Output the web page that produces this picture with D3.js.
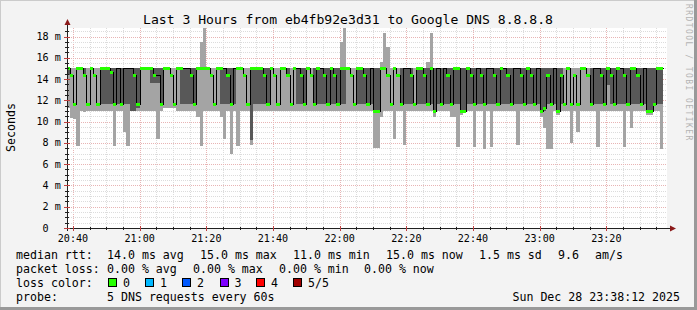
<!DOCTYPE html>
<html><head><meta charset="utf-8">
<script src="https://cdn.jsdelivr.net/npm/d3@7"></script>
<style>
body{margin:0;background:#f3f3f3;}
svg{display:block;}
text{font-family:"DejaVu Sans Mono",monospace;}
</style></head><body>
<svg id="c" width="697" height="310"></svg>
<script>
const titleText = "Last 3 Hours from eb4fb92e3d31 to Google DNS 8.8.8.8";
const yUnitLabel = "Seconds";
const watermark = "RRDTOOL / TOBI OETIKER";
const yTickValues = [0,2,4,6,8,10,12,14,16,18];
const xTickLabels = ["20:40","21:00","21:20","21:40","22:00","22:20","22:40","23:00","23:20"];
// one entry per 60 s step (ms), first step ends 20:39
const pMin = [
11.3,10.3,10.2,7.7,11,10.9,11,11,11,11, 11,11,11,11,7.7,11,11,9.0,7.7,11,
11,11,11,11,11,11,11,8.4,11,11.3, 11.3,11.3,11.3,11,11,11,11,11,11,10.4,
7.7,11,11,11,11,11,10.4,8.4,11,7.0, 11,7.7,11,11,11,7.8,11,11,11,11,
11,11,11,11,11,11,11,11,11,11, 11,11,11,11,11,11,11,11,11,11,
11,11,11,11,11,11,11,11,11,11, 11,11,7.5,7.5,10.4,11,11,11,8.4,11,
11,7.8,11,11,11,11,11,11,11,11, 10.4,11,11,11,11,10.4,10.4,7.6,10.6,11,
11,11,7.6,11,11,7.4,11,7.6,11,11, 11,11,11,11,11,7.8,11,11,11,11,
11,11,10.4,9.4,7.4,7.4,11,10.6,11,11, 11,8.0,11,9.0,11,11,11,11,11,7.6,
11,11,11,11,11,11,11,7.6,11,9.4, 11,11,11,11,10.6,10.6,11,11,7.4];
const pLow = [
14.4,14.4,11.7,15,15,14.4,11.7,15,14.4,11.7, 11.7,11.7,11.7,11.7,11.7,11.7,11.7,11.7,11.7,11,
11,11.3,15,15,15,13.6,13.6,13.6,11.7,15, 15,14.4,11.7,15,11.7,11.7,11.7,11.7,11.7,15,
15,15,15,14.4,11.7,15,11.7,11.7,11.7,11.7, 11.7,15,15,14.4,11.7,8.3,11.7,11.7,11.7,11.7,
11.7,15,14.4,11.7,15,15,14.4,11.7,15,11.7, 11.7,11.7,15,14.4,11.7,11.7,11.7,11.7,11.7,11.7,
11.7,11.7,11.7,11.7,15,14.4,11.7,11.7,11.7,11.7, 11.7,11.7,11,11,15,15,14.4,11.7,15,14.4,
11.7,11.7,11.7,11.7,11.7,11.7,11.7,11.7,11.7,11.7, 11,11.7,11.7,11.7,11.7,11.7,11.7,11.7,11,11,
11.7,11.7,11.7,11.7,11.7,11.7,11.7,11.7,11.7,11.7, 11.7,11.7,11.7,11.7,11.7,11.7,11.7,11.7,11.7,11.7,
11.7,11.7,11,11,11.7,11.7,11.7,11,11.7,11.7, 15,11.7,14.4,11.7,15,15,14.4,11.7,11.7,11.7,
11.7,11.7,13.4,11.7,11.7,11.7,11.7,11.7,11.7,11.7, 11.7,11.7,11.7,11.7,11,11,11.7,11.7,11.7];
const median = [
15,14.4,11.7,15,15,14.4,11.7,15,14.4,11.7, 15,15,15,14.7,11.7,15,11.7,15,15,15,
14.4,11.7,15,15,15,15,14.4,14.4,11.7,15, 15,14.4,11.7,15,15,15,15,14.4,11.7,15,
15,15,15,14.4,11.7,15,15,15,14.4,11.7, 15,15,15,14.4,11.7,15,15,15,15,14.4,
11.7,15,14.4,11.7,15,15,14.4,11.7,15,15, 14.4,11.7,15,14.4,11.7,15,15,14.4,11.7,15,
14.4,11.7,15,15,15,14.4,11.7,15,15,14.4, 11.7,15,11,11,15,15,14.4,11.7,15,14.4,
11.7,15,15,14.4,11.7,15,15,14.4,11.7,15, 11,15,11.7,15,14.4,11.7,15,15,11,11,
15,14.4,11.7,15,14.4,11.7,15,15,14.4,11.7, 15,15,14.4,11.7,15,15,14.4,11.7,15,14.4,
11.7,15,11,11.3,14.4,11.7,15,11,14.4,11.7, 15,11.7,14.4,11.7,15,15,14.4,11.7,15,15,
14.4,11.7,15,14.4,11.7,15,15,14.4,11.7,15, 15,14.4,11.7,15,11,11,11.7,15,15];
const pHigh = [
15,14.4,11.7,15,15,15,11.7,15,14.4,11.7, 15,15,15,15,15,15,15,15,15,15,
15,15,15,15,15,15,15,15,15,15, 15,14.4,11.7,15,15,15,15,15,15,15,
15,15,15,14.4,11.7,15,15,15,15,15, 15,15,15,14.4,11.7,15,15,15,15,15,
15,15,14.4,11.7,15,15,15,11.7,15,15, 15,15,15,14.4,15,15,15,15,15,15,
15,15,15,15,15,14.4,11.7,15,15,15, 15,15,15,15,15,15,14.4,11.7,15,14.4,
15,15,15,15,11.7,15,15,15,15,15, 15,15,15,15,15,15,15,15,15,15,
15,15,15,15,15,15,15,15,15,15, 15,15,15,15,15,15,15,15,15,15,
15,15,15,15,15,15,15,15,15,11.7, 15,11.7,14.4,11.7,15,15,14.4,15,15,15,
15,15,15,15,15,15,15,15,15,15, 15,15,15,15,15,15,15,15,15];
const pMax = [
15,15,15,15,15,15,15,15,15,15, 15,15,15,15,15,15,15,15,15,15,
15,15,15,15,15,15,15,15,15,15, 15,15,15,15,15,15,15,15,15,15,
17.5,18.8,15,15,15,15,15,15,15,15, 15,15,15,15,15,15,15,15,15,15,
15,15,15,15,15,15,15,15,15,15, 15,15,15,15,15,15,15,15,15,15,
15,15,17.5,18.8,15,15,15,15,15,15, 15,15,15,15,15.6,18.3,17,15,15,15,
15,15,15,15,15,15,15,15,15.6,18.3, 15,15,15,15,15,15,15,15,15,15,
15,15,15,15,15,15,15,15,15,15, 15,15,15,15,15,15,15,15,15,15,
15,15,15,15,15,15,15,15,15,15, 15,15,15,15,15,15,15,15,15,15,
15,15,15,15,15,15,15,15,15,15, 15,15,15,15,15,15,15,15,15];
const lossBox = [
1,1,1,1,1,1,1,1,1,1, 1,1,1,1,1,0,1,0,0,0,
1,1,1,1,1,1,1,0,1,1, 1,1,1,1,1,0,0,1,1,1,
1,1,1,1,1,1,1,0,1,1, 0,1,1,1,1,1,1,1,1,1,
1,1,1,1,1,1,1,1,1,0, 1,1,1,1,1,1,0,1,1,1,
1,1,1,1,1,1,1,1,1,1, 1,0,1,1,1,1,1,1,1,1,
1,0,0,1,1,1,1,1,1,1, 1,0,1,0,1,1,1,1,1,1,
1,1,1,0,1,1,0,0,1,1, 1,0,1,1,0,0,1,1,1,1,
1,0,1,1,1,1,0,1,1,1, 1,1,1,1,1,1,1,1,0,0,
1,1,1,1,1,1,0,1,1,1, 1,1,1,0,1,1,1,1,1];
const rttStats = ["14.0 ms avg","15.0 ms max","11.0 ms min","15.0 ms now","1.5 ms sd","9.6","am/s"];
const lossStats = ["0.00 % avg","0.00 % max","0.00 % min","0.00 % now"];
const lossLegend = ["0","1","2","3","4","5/5"];
const lossColors = ["#26ff00","#00b8ff","#0059ff","#7e00ff","#ff0000","#a00000"];
const probeText = "5 DNS requests every 60s";
const stampText = "Sun Dec 28 23:38:12 2025";

const svg = d3.select("#c");
const W = 697, H = 310;
const L = 67, R = 667, T = 28, B = 228;
const yMax = 18.8;
const t0 = new Date(2025,11,28,20,38,12), t1 = new Date(2025,11,28,23,38,12);
const x = d3.scaleTime().domain([t0,t1]).range([L,R]);
const y = d3.scaleLinear().domain([0,yMax]).range([B,T]);

svg.append("rect").attr("width",W).attr("height",H).attr("fill","#f3f3f3");
svg.append("rect").attr("x",0).attr("y",0).attr("width",W).attr("height",1).attr("fill","#cbcbcb");
svg.append("rect").attr("x",0).attr("y",0).attr("width",1).attr("height",H).attr("fill","#cbcbcb");
svg.append("rect").attr("x",W-3).attr("y",0).attr("width",3).attr("height",H).attr("fill","#999");
svg.append("rect").attr("x",0).attr("y",H-3).attr("width",W).attr("height",3).attr("fill","#999");

svg.append("rect").attr("x",L).attr("y",T).attr("width",R-L).attr("height",B-T).attr("fill","#fff");

const grid = svg.append("g").attr("shape-rendering","crispEdges");
const minorT = d3.timeMinute.every(5).range(t0,t1);
minorT.forEach(t=>{
  const major = t.getMinutes()%20===0;
  grid.append("line").attr("x1",Math.round(x(t))+0.5).attr("x2",Math.round(x(t))+0.5)
    .attr("y1",T).attr("y2",B).attr("stroke",major?"#e8b4b4":"#dcdcdc").attr("stroke-dasharray","1,1");
});
d3.range(0.5,yMax,0.5).forEach(v=>{
  const major = Math.abs(v%2)<1e-9;
  grid.append("line").attr("x1",L).attr("x2",R).attr("y1",Math.round(y(v))+0.5).attr("y2",Math.round(y(v))+0.5)
    .attr("stroke",major?"#e8b4b4":"#dcdcdc").attr("stroke-dasharray","1,1");
});

const steps = pMin.map((d,i)=>{
  const te = d3.timeMinute.offset(new Date(2025,11,28,20,39,0), i);
  const ts = d3.timeMinute.offset(te,-1);
  return {x0:Math.max(L,Math.round(x(ts))), x1:Math.round(x(te)), p1:pMin[i],p2:pLow[i],m:median[i],p4:pHigh[i],p5:Math.min(pMax[i],yMax),g:lossBox[i]};
});
const sm = svg.append("g").attr("shape-rendering","crispEdges");
sm.selectAll(".lt").data(steps).join("rect")
  .attr("x",d=>d.x0).attr("width",d=>d.x1-d.x0)
  .attr("y",d=>Math.round(y(d.p5))).attr("height",d=>Math.round(y(d.p1))-Math.round(y(d.p5)))
  .attr("fill","#a4a4a4");
sm.selectAll(".dk").data(steps).join("rect")
  .attr("x",d=>d.x0).attr("width",d=>d.x1-d.x0)
  .attr("y",d=>Math.round(y(d.p4))).attr("height",d=>Math.round(y(d.p2))-Math.round(y(d.p4)))
  .attr("fill","#585858");
const pts = [];
steps.forEach(d=>{pts.push([d.x0,d.m]);pts.push([d.x1,d.m]);});
svg.append("path").attr("d",d3.line().x(p=>p[0]+0.5).y(p=>Math.round(y(p[1]))+0.5)(pts))
  .attr("fill","none").attr("stroke","#000").attr("stroke-width",1).attr("shape-rendering","crispEdges");
svg.append("g").attr("shape-rendering","crispEdges").selectAll("rect").data(steps.filter(d=>d.g)).join("rect")
  .attr("x",d=>d.x0).attr("width",d=>d.x1-d.x0)
  .attr("y",d=>Math.round(y(d.m))-1).attr("height",3).attr("fill",lossColors[0]);

const ax = svg.append("g").attr("shape-rendering","crispEdges");
ax.append("line").attr("x1",L-3).attr("x2",R+5).attr("y1",B+0.5).attr("y2",B+0.5).attr("stroke","#202020");
ax.append("line").attr("x1",L+0.5).attr("x2",L+0.5).attr("y1",B+3).attr("y2",T-4).attr("stroke","#202020");
svg.append("path").attr("d",`M${R+3},${B-2.5}L${R+9},${B+0.5}L${R+3},${B+3.5}Z`).attr("fill","#8b1a1a");
svg.append("path").attr("d",`M${L-2.5},${T-3}L${L+0.5},${T-9}L${L+3.5},${T-3}Z`).attr("fill","#8b1a1a");
minorT.forEach(t=>{
  const major = t.getMinutes()%20===0;
  ax.append("line").attr("x1",Math.round(x(t))+0.5).attr("x2",Math.round(x(t))+0.5)
   .attr("y1",B-(major?2:1)).attr("y2",B+(major?3:2)).attr("stroke",major?"#c04040":"#202020");
});
d3.range(0,yMax,0.5).forEach(v=>{
  const major = Math.abs(v%2)<1e-9;
  ax.append("line").attr("x1",L-(major?3:2)).attr("x2",L+(major?3:2)).attr("y1",Math.round(y(v))+0.5).attr("y2",Math.round(y(v))+0.5)
   .attr("stroke",major?"#c04040":"#202020");
});

svg.selectAll(".yl").data(yTickValues).join("text")
  .attr("x",d=>d===0?48.5:60.8).attr("y",d=>y(d)+3.6).attr("text-anchor","end")
  .attr("font-size",10.1).text(d=>d===0?"0":d+" m");
const xTicks = d3.timeMinute.every(20).range(t0,t1);
svg.selectAll(".xl").data(xTicks).join("text")
  .attr("x",d=>x(d)).attr("y",241.5).attr("text-anchor","middle").attr("font-size",10.1)
  .text((d,i)=>xTickLabels[i]);
svg.append("text").attr("x",348).attr("y",24).attr("text-anchor","middle").attr("font-size",13.1).text(titleText);
svg.append("text").attr("transform","translate(15,127.5) rotate(-90)").attr("text-anchor","middle").attr("font-size",11.6).text(yUnitLabel);
svg.append("text").attr("transform","translate(685.5,4) rotate(90)").attr("font-size",8).attr("fill","#b4b4b4").attr("letter-spacing",1.45).text(watermark);

const lg = svg.append("g").attr("font-size",11.6).attr("xml:space","preserve");
const rttX = [107,200,293,386,479,558,595];
lg.append("text").attr("x",16).attr("y",258.5).text("median rtt:");
rttStats.forEach((s,i)=>lg.append("text").attr("x",rttX[i]).attr("y",258.5).text(s));
const lossX = [107,193,279,364];
lg.append("text").attr("x",16).attr("y",272.5).text("packet loss:");
lossStats.forEach((s,i)=>lg.append("text").attr("x",lossX[i]).attr("y",272.5).text(s));
lg.append("text").attr("x",16).attr("y",286.5).text("loss color:");
const boxX = [108,145,182,219.5,256,293];
lossLegend.forEach((s,i)=>{
  lg.append("rect").attr("x",boxX[i]+0.5).attr("y",278.5).attr("width",8).attr("height",8)
    .attr("fill",lossColors[i]).attr("stroke","#000").attr("shape-rendering","crispEdges");
  lg.append("text").attr("x",boxX[i]+15).attr("y",286.5).text(s);
});
lg.append("text").attr("x",16).attr("y",300.5).text("probe:");
lg.append("text").attr("x",107).attr("y",300.5).text(probeText);
lg.append("text").attr("x",680).attr("y",300.5).attr("text-anchor","end").text(stampText);
</script></body></html>
